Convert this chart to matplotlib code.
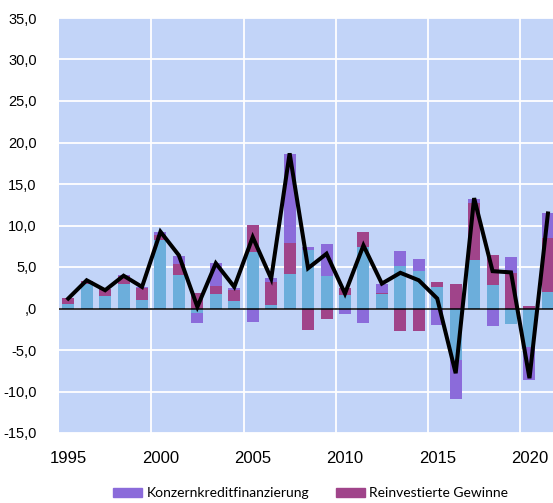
import matplotlib
matplotlib.use("Agg")
import matplotlib.pyplot as plt
import numpy as np
from matplotlib.patches import Patch

years = list(range(1995, 2022))
beteiligung = [0.5, 3.0, 1.5, 3.0, 1.0, 8.2, 4.0, -0.6, 1.8, 0.9, 6.75, 0.4, 4.2, 7.1, 3.95,
               1.6, 7.35, 1.7, 5.1, 4.55, 2.6, -6.2, 5.9, 2.8, -1.85, -4.6, 2.0]
konzernkredit = [0.0, 0.0, 0.1, 0.1, 0.1, 0.3, 0.95, -1.1, 2.7, 0.3, -1.6, 0.5, 10.7, 0.35, 3.85,
                 -0.7, -1.7, 1.1, 1.8, 1.4, -2.0, -4.75, 0.55, -2.07, 1.9, -4.0, 2.9]
reinvestiert = [0.8, 0.3, 0.8, 0.9, 1.5, 0.7, 1.35, 1.9, 0.95, 1.3, 3.35, 2.8, 3.7, -2.6, -1.25,
                0.85, 1.85, 0.2, -2.75, -2.7, 0.6, 3.0, 6.8, 3.7, 4.25, 0.3, 6.55]
insgesamt = [1.2, 3.4, 2.2, 3.95, 2.6, 9.25, 6.4, 0.2, 5.45, 2.6, 8.6, 3.6, 18.7, 4.85, 6.6,
             1.8, 7.6, 3.0, 4.3, 3.4, 1.2, -7.8, 13.3, 4.5, 4.35, -8.4, 11.45]
x_labels = ["1995", "2000", "2005", "2010", "2015", "2020"]
y_ticks = [35, 30, 25, 20, 15, 10, 5, 0, -5, -10, -15]
y_labels = ["35,0", "30,0", "25,0", "20,0", "15,0", "10,0", "5,0", ",0", "-5,0", "-10,0", "-15,0"]

c_blue = "#6CAEDB"
c_purple = "#8B6BDA"
c_mag = "#A0448A"
bg = "#C2D4F8"

fig = plt.figure(figsize=(5.53, 5.03), dpi=100)
ax = fig.add_axes([59/553, 1-433/503, 1-59/553, (433-18)/503])
ax.set_facecolor(bg)
for s in ax.spines.values():
    s.set_visible(False)

x = np.array(years, dtype=float)
pos_base = np.zeros(len(years))
neg_base = np.zeros(len(years))
w = 0.65
for vals, col in [(beteiligung, c_blue), (reinvestiert, c_mag), (konzernkredit, c_purple)]:
    v = np.array(vals, dtype=float)
    p = np.where(v > 0, v, 0)
    n = np.where(v < 0, v, 0)
    ax.bar(x, p, w, bottom=pos_base, color=col, zorder=2, linewidth=0)
    ax.bar(x, n, w, bottom=neg_base, color=col, zorder=2, linewidth=0)
    pos_base += p
    neg_base += n

ax.plot(x, insgesamt, color="black", lw=2.9, zorder=4, solid_joinstyle="miter")
ax.axhline(0, color="black", lw=1.1, zorder=3)

ax.set_ylim(-15, 35)
ax.set_xlim(1994.5, 1994.5 + 494/18.45)
ax.set_yticks(y_ticks)
ax.set_yticklabels(y_labels, fontsize=10.5, family="Liberation Sans")
ax.set_xticks([int(l) for l in x_labels])
ax.set_xticklabels(x_labels, fontsize=12, family="Liberation Sans")
ax.tick_params(axis="both", length=0)
ax.tick_params(axis="x", pad=13)
ax.tick_params(axis="y", pad=16)
for yv in y_ticks:
    ax.axhline(yv, color="white", lw=1.3, zorder=1)
for xv in [1999.5, 2004.5, 2009.5, 2014.5, 2019.5]:
    ax.axvline(xv, color="white", lw=1.3, zorder=1)

handles = [Patch(color=c_purple, label="Konzernkreditfinanzierung"),
           Patch(color=c_mag, label="Reinvestierte Gewinne")]
fig.legend(handles=handles, loc="center", bbox_to_anchor=(310.5/553, 1-493/503), ncol=2,
           frameon=False, prop={"family": "Lato", "size": 10}, handlelength=2.1,
           handleheight=0.6, handletextpad=0.3, columnspacing=1.9, borderpad=0)

fig.savefig("out.png", dpi=100)
